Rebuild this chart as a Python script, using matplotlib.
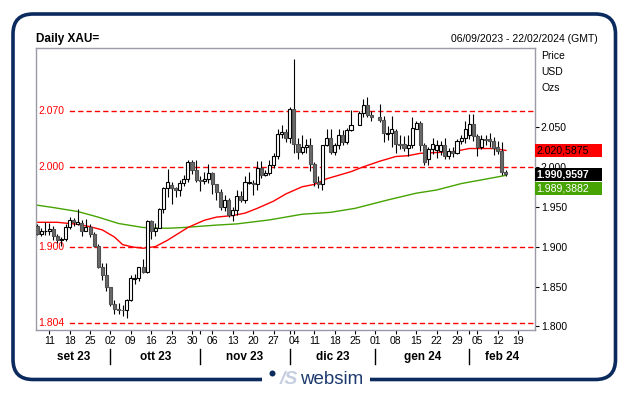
import matplotlib

matplotlib.use("Agg")

import matplotlib.pyplot as plt
import matplotlib.transforms as mtransforms
from matplotlib.patches import FancyBboxPatch, Rectangle, Circle
import pandas as pd

plt.rcParams["font.family"] = ["Liberation Sans", "DejaVu Sans"]

# giorni lavorativi dal 06/09/2023 al 22/02/2024 (asse x)
giorni = pd.bdate_range("2023-09-06", "2024-02-22")

# candele giornaliere XAU (None = nessuna quotazione: 25/12 e 01/01)
aperture = [1926, 1916, 1919, 1919, 1922, 1913, 1908, 1910, 1924, 1934, 1929, 1930, 1920, 1925, 1916, 1901, 1875, 1864,
            1849, 1828, 1822, 1821, 1820, 1833, 1860, 1861, 1874, 1868, 1932, 1920, 1923, 1947, 1974, 1977, 1973, 1971,
            1980, 1985, 2006, 1996, 1983, 1982, 1985, 1992, 1978, 1969, 1950, 1958, 1940, 1946, 1963, 1959, 1980, 1980,
            1978, 1998, 1990, 1992, 2002, 2014, 2041, 2044, 2036, 2072, 2029, 2019, 2025, 2028, 2004, 1981, 1979, 2027,
            2036, 2019, 2027, 2040, 2031, 2046, None, 2053, 2067, 2077, 2065, None, 2063, 2059, 2041, 2043, 2045, 2029,
            2029, 2024, 2028, 2048, 2055, 2027, 2010, 2022, 2021, 2020, 2028, 2013, 2020, 2018, 2032, 2036, 2040, 2054,
            2039, 2025, 2035, 2035, 2033, 2025, 2020, 1993]
massimi = [1928, 1923, 1931, 1930, 1926, 1916, 1912, 1928, 1937, 1936, 1947, 1933, 1935, 1929, 1918, 1903, 1880, 1880,
           1850, 1833, 1829, 1827, 1834, 1865, 1866, 1875, 1885, 1933, 1934, 1930, 1949, 1975, 1997, 1981, 1975, 1983,
           1990, 2009, 2008, 2008, 1988, 1993, 2004, 1994, 1979, 1972, 1965, 1961, 1950, 1971, 1970, 1988, 1993, 1984,
           2007, 2007, 1996, 2008, 2018, 2048, 2052, 2048, 2075, 2135, 2036, 2040, 2035, 2036, 2006, 1988, 2028, 2048,
           2047, 2030, 2047, 2046, 2049, 2071, None, 2070, 2085, 2088, 2070, None, 2079, 2064, 2051, 2064, 2048, 2040,
           2039, 2040, 2062, 2058, 2058, 2030, 2025, 2036, 2034, 2033, 2036, 2024, 2025, 2035, 2040, 2058, 2066, 2066,
           2041, 2040, 2040, 2042, 2037, 2032, 2031, 1996]
minimi = [1915, 1913, 1915, 1915, 1908, 1905, 1901, 1907, 1922, 1926, 1927, 1913, 1919, 1912, 1899, 1873, 1858, 1845,
          1826, 1816, 1815, 1813, 1810, 1832, 1853, 1857, 1867, 1867, 1909, 1913, 1923, 1942, 1962, 1954, 1962, 1963,
          1976, 1981, 1991, 1981, 1970, 1978, 1980, 1966, 1959, 1946, 1945, 1937, 1932, 1940, 1956, 1955, 1979, 1965,
          1971, 1986, 1988, 1990, 1999, 2010, 2036, 2031, 2030, 2018, 2010, 2016, 2017, 1995, 1976, 1973, 1971, 2026,
          2016, 2015, 2023, 2028, 2029, 2045, None, 2052, 2063, 2062, 2058, None, 2056, 2031, 2034, 2025, 2017, 2022,
          2020, 2013, 2024, 2047, 2020, 2002, 2002, 2016, 2011, 2015, 2010, 2010, 2012, 2016, 2029, 2030, 2035, 2033,
          2014, 2022, 2027, 2025, 2015, 2016, 1990, 1989]
chiusure = [1916, 1919, 1919, 1922, 1913, 1908, 1910, 1924, 1934, 1931, 1931, 1920, 1925, 1916, 1901, 1875, 1864, 1849,
            1828, 1822, 1821, 1820, 1833, 1861, 1861, 1874, 1868, 1932, 1920, 1923, 1947, 1974, 1981, 1973, 1971, 1980,
            1985, 2006, 1996, 1983, 1982, 1985, 1992, 1978, 1969, 1950, 1958, 1940, 1946, 1963, 1959, 1981, 1981, 1978,
            1998, 1990, 1992, 2002, 2014, 2041, 2044, 2036, 2072, 2029, 2019, 2025, 2028, 2004, 1981, 1979, 2027, 2036,
            2019, 2027, 2040, 2031, 2046, 2053, None, 2067, 2077, 2065, 2063, None, 2059, 2042, 2043, 2047, 2029, 2028,
            2024, 2028, 2049, 2055, 2027, 2006, 2023, 2029, 2028, 2028, 2013, 2020, 2018, 2033, 2036, 2047, 2054, 2039,
            2025, 2035, 2034, 2033, 2024, 2020, 1993, 1990.9597]

# medie mobili (giorno, valore)
media_rossa_giorni = [0, 5, 10, 13, 16, 19, 21, 23.5, 26, 29, 32, 37, 41, 44, 48, 51, 54, 58, 61, 65, 68, 71, 77, 80,
                      84, 88, 91, 94, 98, 102, 106, 112, 115]
media_rossa = [1930.5, 1930.5, 1928, 1925, 1921, 1912, 1902.5, 1899.5, 1898, 1900, 1908, 1924, 1933, 1937, 1939,
               1942, 1948, 1957, 1966, 1975, 1978, 1985, 1994, 2000, 2007, 2013, 2014, 2017, 2018, 2019, 2023, 2023,
               2020.5875]
media_verde_giorni = [0, 4, 10, 15, 20, 26, 32, 36, 44, 49, 57, 65, 72, 78, 86, 93, 98, 104, 112, 115]
media_verde = [1952, 1949, 1944, 1937, 1929, 1924, 1923, 1924, 1927, 1928.5, 1933.5, 1940.6, 1943, 1948, 1958.5,
               1967, 1971, 1979, 1986.5, 1989.3882]

livelli_rossi = [2070, 2000, 1900, 1804]
prezzi_asse = [1800, 1850, 1900, 1950, 2000, 2050]
mesi = ["set 23", "ott 23", "nov 23", "dic 23", "gen 24", "feb 24"]

blu = "#0b2b5e"
rosso = "#ff0000"
verde = "#46a302"
grigio = "#6a6a6a"


def fmt_it(v, dec=0):
    s = f"{v:,.{dec}f}"
    return s.replace(",", "#").replace(".", ",").replace("#", ".")


fig = plt.figure(figsize=(6.3, 3.94), dpi=100)

# livello in pixel per cornice, titoli e logo
bg = fig.add_axes([0, 0, 1, 1], zorder=0)
bg.set_xlim(0, 630)
bg.set_ylim(394, 0)
bg.axis("off")
bg.add_patch(FancyBboxPatch((13, 14), 602.5, 365.5, boxstyle="round,pad=0,rounding_size=20",
                            fc="white", ec=blu, lw=2.6))
bg.add_patch(Rectangle((262, 370), 108, 20, fc="white", ec="none", zorder=3))
bg.add_patch(Circle((272.5, 373.5), 3, fc=blu, ec="none", zorder=4))
bg.text(289, 380, "/S", color="#c5cee0", fontsize=14, fontweight="bold", fontstyle="italic",
        ha="center", va="center", zorder=4)
bg.text(332, 380, "websim", color="#1d3a6e", fontsize=13.5, ha="center", va="center", zorder=4)
bg.text(36, 39, "Daily XAU=", fontsize=8.5, fontweight="bold", va="center", ha="left")
bg.text(598, 39, "06/09/2023 - 22/02/2024 (GMT)", fontsize=7.5, va="center", ha="right")
for testo, yy in zip(["Price", "USD", "Ozs"], [56, 72, 88]):
    bg.text(541, yy, testo, fontsize=7.5, va="center", ha="left")

ax = fig.add_axes([36 / 630, 64 / 394, 498.5 / 630, 282 / 394], zorder=1)
ax.set_facecolor("white")

x = list(range(len(chiusure)))
validi = [i for i in x if chiusure[i] is not None]

# linee orizzontali rosse tratteggiate
for liv in livelli_rossi:
    ax.axhline(liv, color=rosso, ls=(0, (3.8, 2.2)), lw=1, zorder=1)
    ax.text(0.004, liv, fmt_it(liv / 1000, 3).replace(",", "."), transform=mtransforms.blended_transform_factory(
        ax.transAxes, ax.transData), color=rosso, fontsize=7.5, va="center", ha="left", zorder=2,
        bbox=dict(boxstyle="square,pad=0.25", fc="white", ec="none"))

ax.plot(media_verde_giorni, media_verde, color=verde, lw=1, zorder=2)
ax.plot(media_rossa_giorni, media_rossa, color=rosso, lw=1, zorder=2)

# candele
ax.vlines(validi, [minimi[i] for i in validi], [massimi[i] for i in validi], color="black", lw=0.8, zorder=3)
for i in validi:
    o, c = aperture[i], chiusure[i]
    su = c >= o
    ax.bar(i, max(abs(c - o), 0.8), bottom=min(o, c), width=0.75,
           color="white" if su else grigio, edgecolor="black" if su else "#505050", lw=0.8, zorder=4)

ax.set_xlim(-0.25, len(giorni))
ax.set_ylim(1795.5, 2149)

for s in ax.spines.values():
    s.set_color("#9a9aa8")
    s.set_linewidth(1)

ax.yaxis.tick_right()
ax.set_yticks(prezzi_asse)
ax.set_yticklabels([fmt_it(v) for v in prezzi_asse])
ax.tick_params(axis="y", length=3, width=0.8, pad=1.5, labelsize=7.5, color="black")

lunedi = [i for i, d in enumerate(giorni) if d.weekday() == 0]
inizio_mese = [i for i in range(1, len(giorni)) if giorni[i].month != giorni[i - 1].month]
ax.set_xticks(lunedi)
ax.set_xticklabels([giorni[i].strftime("%d") for i in lunedi])
ax.set_xticks([i for i in inizio_mese if i not in lunedi], minor=True)
ax.tick_params(axis="x", which="both", length=3, width=0.8, pad=1.5, labelsize=7.5, color="black")

tr = mtransforms.blended_transform_factory(ax.transData, ax.transAxes)
bordi = [ax.get_xlim()[0]] + inizio_mese + [ax.get_xlim()[1]]
for k, nome in enumerate(mesi):
    ax.text((bordi[k] + bordi[k + 1]) / 2, -0.094, nome, transform=tr, fontsize=8.5, fontweight="bold",
            ha="center", va="center")
for m in inizio_mese:
    ax.plot([m, m], [-0.067, -0.121], transform=tr, color="black", lw=1, clip_on=False)

# riquadri con gli ultimi valori
tb = mtransforms.blended_transform_factory(ax.transAxes, ax.transData)
alt = 13 / 0.7977
larg = 67 / 498.5
ultimo = chiusure[validi[-1]]
riquadri = [(media_rossa[-1], rosso, "black", "normal"),
            (ultimo, "black", "white", "bold"),
            (ultimo - alt - 2.3, verde, "white", "normal")]
valori = [media_rossa[-1], ultimo, media_verde[-1]]
for (yc, fc, tc, fw), v in zip(riquadri, valori):
    ax.add_patch(Rectangle((1.0, yc - alt / 2), larg, alt, transform=tb, fc=fc, ec="none",
                           clip_on=False, zorder=6))
    ax.text(1.004, yc, fmt_it(v, 4), transform=tb, color=tc, fontsize=7.6, fontweight=fw,
            ha="left", va="center", zorder=7, clip_on=False)

fig.savefig("out.png", dpi=100)
